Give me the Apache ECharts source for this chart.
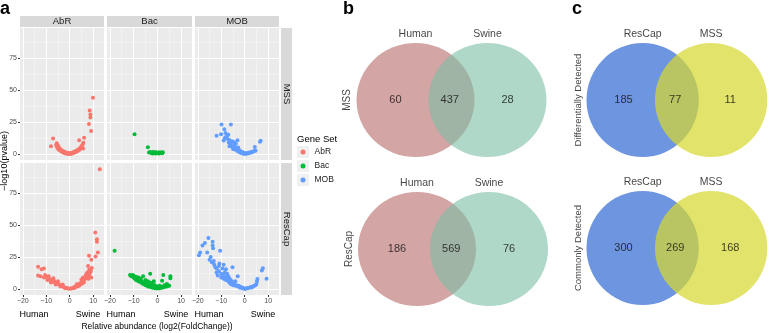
<!DOCTYPE html>
<html>
<head>
<meta charset="utf-8">
<script src="https://cdn.jsdelivr.net/npm/echarts@6/dist/echarts.min.js"></script>
<style>
  html, body { margin: 0; padding: 0; background: #fff; }
  #chart { width: 778px; height: 333px; }
</style>
</head>
<body>
<div id="chart"></div>
<script>
// ---- data ----
const geneSets = ['AbR', 'Bac', 'MOB'];
const methods = ['MSS', 'ResCap'];
const xTicks = [-20, -10, 0, 10];
const xMinor = [-15, -5, 5];
const yTicks = [0, 25, 50, 75];
const yMinor = [12.5, 37.5, 62.5, 87.5];

// [log2FoldChange, -log10(pvalue)]
const abrMSS = [
  [9.9, 44], [8.5, 34], [8.8, 31], [8.8, 28.5], [8.2, 23.5], [9.1, 18], [-7.1, 12.2], [-8, 6],
  [6.1, 12.7], [4, 10.7], [5.7, 4.4],
  [-5.8, 7], [-5.5, 8.5], [-5.5, 5.5], [-5, 6.5], [-5, 4.2], [-4.7, 5.5], [-4.5, 3.2], [-4.2, 4.2],
  [-4, 2.6], [-3.8, 3.4], [-3.5, 2], [-3.3, 2.8], [-3, 1.4], [-2.8, 2.2], [-2.5, 1], [-2.3, 1.7],
  [-2, 0.6], [-1.8, 1.3], [-1.5, 0.4], [-1.3, 1], [-1, 0.2], [-0.8, 0.8], [-0.5, 0.1], [-0.3, 0.6],
  [0, 0], [0.2, 0.5], [0.5, 0.2], [0.8, 0.8], [1, 0.4], [1.3, 1.1], [1.5, 0.7], [1.8, 1.5], [2, 1.1],
  [2.3, 2], [2.5, 1.5], [2.8, 2.5], [3, 2], [3.3, 3.1], [3.5, 2.6], [3.8, 3.8], [4, 3.2], [4.3, 4.5],
  [4.5, 4], [4.8, 5.5], [5, 5], [5.2, 6.5], [5.5, 7.5], [5.8, 8.8]
];
const bacMSS = [
  [-9.6, 15.4], [-4, 5.2], [-3.5, 1.2], [-3, 1.5], [-2.6, 0.8], [-2.2, 1.2], [-2, 0.4], [-1.7, 1.6],
  [-1.4, 0.7], [-1, 1.1], [-0.8, 0.3], [-0.4, 1.4], [0, 0.6], [0.3, 1], [0.7, 0.4], [1, 1.3],
  [1.4, 0.7], [1.8, 1.1], [2.1, 0.5], [2.3, 1.4]
];
const mobMSS = [
  [-12, 14.3], [-9.9, 23.2], [-5.9, 23.2], [-10.1, 15.4], [-8.7, 19.3], [-8.2, 16.5], [-7.8, 14],
  [-7.5, 12], [-8.5, 12.5], [-9, 10.5], [-7, 15], [-6.6, 11], [-6.8, 9], [-6.2, 8], [-5.9, 7],
  [-6.5, 6], [-5.5, 10], [-5, 9.5], [-4.5, 9], [-3.8, 8], [-3.1, 10.7], [-5.2, 5.5], [-5, 4],
  [-4.5, 6.5], [-4.2, 3.5], [-4, 5], [-3.6, 4], [-3.3, 2.5], [-3, 3.5], [-2.8, 5], [-2.5, 2],
  [-2.4, 1.8], [-2.2, 3], [-2, 1.2], [-1.7, 2], [-1.4, 0.8], [-1, 1.5], [-0.8, 0.4], [-0.4, 1],
  [0, 0], [0.4, 0.5], [0.8, 0.2], [1.2, 0.8], [1.6, 0.5], [2, 1.2], [2.4, 0.9], [2.8, 1.6],
  [3.2, 1.3], [3.6, 2], [4, 2.4], [4.3, 5.5], [4.6, 2.6], [6.5, 9.5], [6.8, 10.3]
];
const abrResCap = [
  [12.8, 93.8], [10.9, 44.3], [11.6, 39], [11.6, 37], [12, 28.6], [8.2, 26], [11, 25.5], [9.2, 23],
  [7.8, 18], [9.4, 16.5], [9, 14], [8.3, 15], [7.5, 13], [7, 11.5], [8.5, 12], [9.2, 9.1], [8.2, 10],
  [6.5, 8], [7.5, 8.5], [5.7, 9.1], [6, 6.5], [5.5, 7], [5, 5.5], [5.2, 4.2], [4.5, 4.5], [4.2, 3],
  [4, 4], [3.5, 3], [3.2, 2], [3, 2.5], [2.5, 2], [2.2, 1.2], [2, 1.5], [1.5, 1], [1, 0.6], [0.5, 0.3],
  [0, 0.2], [-0.5, 0.3], [-1, 0.5], [-1.5, 0.8], [-2, 1], [-2.5, 1.5], [-3, 2], [-3.5, 2.5], [-4, 3],
  [-4.5, 3.5], [-5, 4], [-5.5, 4.5], [-6, 5], [-6.5, 6], [-7, 5.5], [-7.5, 7], [-8, 6.5], [-8.5, 7.5],
  [-9, 8], [-9.5, 7], [-10, 9.5], [-10.5, 11], [-11, 16], [-12, 15.5], [-12.5, 10], [-13.5, 17.5],
  [-13.5, 10.5], [-8, 5], [-6, 3.5], [-4, 2], [-2, 0.5], [-3, 3.5], [-5, 6], [-7, 8.5], [-9, 10],
  [-11, 9], [2, 0.8], [4, 2.5], [6, 5], [6.8, 10], [8, 8], [3, 3.8], [5, 7.5]
];
const bacResCap = [
  [-18, 30], [-11.5, 11], [-11, 10], [-10.5, 11], [-10, 9], [-10, 10.5], [-9.5, 8], [-9, 9.5],
  [-9, 7], [-8.5, 8], [-8, 6], [-8, 9], [-7.5, 7], [-7, 5], [-7, 8], [-6.5, 6], [-6, 4], [-6, 10],
  [-5.5, 5], [-5, 3], [-5, 7], [-4.5, 4], [-4, 2], [-4, 6], [-3.5, 3], [-3, 1.5], [-3, 5], [-3, 12],
  [-2.5, 2.5], [-2, 1], [-2, 4], [-1.5, 6], [-1.5, 2], [-1, 0.5], [-1, 3], [-0.5, 1.5], [0, 0.3],
  [0, 2], [0.5, 1], [1, 0.5], [1, 2.5], [1.5, 1.5], [2, 1], [2, 6.5], [2.5, 2], [2.5, 11], [3, 1.5],
  [3, 3], [3.5, 2.5], [4, 2], [4.5, 3], [5, 2.5], [5.5, 8.5], [5.5, 10], [4, 4]
];
const mobResCap = [
  [-19.5, 26.5], [-19, 28.5], [-18, 34], [-17, 36], [-16, 28.5], [-15.5, 40], [-15, 23], [-14.5, 25],
  [-14, 21], [-13.7, 37], [-13.7, 34], [-13.5, 32], [-13.2, 22], [-13, 19], [-12.5, 17], [-12, 13],
  [-12, 16], [-11.5, 10.5], [-11, 14], [-11, 18], [-10.8, 20], [-10.5, 30], [-10, 12], [-10, 9],
  [-9.5, 16], [-9.5, 11], [-9, 19], [-9, 8], [-8.5, 13], [-8.5, 10], [-8, 15.5], [-8, 7], [-7.5, 12],
  [-7.5, 9], [-7, 6], [-7, 10], [-6.5, 8], [-6.5, 5], [-6, 7], [-6, 4], [-5.5, 6], [-5.2, 17], [-5, 3],
  [-5, 5], [-4.5, 4], [-4, 2.5], [-4, 6], [-3.5, 3], [-3, 10], [-3, 2], [-2.5, 2.5], [-2, 1],
  [-1.5, 1.5], [-1, 0.5], [-0.5, 0.8], [0, 0], [0.5, 0.3], [1, 0.5], [1.5, 0.8], [2, 1], [2.5, 1.5],
  [3, 1.2], [3.5, 2], [4, 2.5], [4.5, 3], [5, 4], [5.2, 6], [5.4, 7.8], [7.3, 14.5], [7.7, 16.2], [9.3, 8]
];
const volcano = [[abrMSS, bacMSS, mobMSS], [abrResCap, bacResCap, mobResCap]];

// Venn diagrams: counts are [left only, both, right only]
const vennBSets = ['Human', 'Swine'];
const vennBRows = ['MSS', 'ResCap'];
const vennBCounts = [[60, 437, 28], [186, 569, 76]];
const vennCSets = ['ResCap', 'MSS'];
const vennCRows = ['Differentially Detected', 'Commonly Detected'];
const vennCCounts = [[185, 77, 11], [300, 269, 168]];

// ---- layout / style ----
const FONT = 'Liberation Sans, Arial, Helvetica, sans-serif';
const geneColors = ['#F8766D', '#00BA38', '#619CFF'];
const panelLeft = [20, 107, 195];
const panelWidth = [84, 85, 84];
const rowTop = [28, 163];
const rowHeight = 132;
const xRange = [-21.2, 14.6];
const yRange = [-4.7, 98.7];
const minus = v => (v < 0 ? '\u2212' + (-v) : String(v));

const grid = [], xAxis = [], yAxis = [], series = [], graphic = [];
const noLine = { show: false, onZero: false };

methods.forEach((m, r) => {
  geneSets.forEach((g, c) => {
    const gi = grid.length;
    grid.push({
      left: panelLeft[c], top: rowTop[r], width: panelWidth[c], height: rowHeight,
      show: true, backgroundColor: '#EBEBEB', borderWidth: 0, containLabel: false
    });
    const showX = r === 1, showY = c === 0;
    xAxis.push({
      gridIndex: gi, type: 'value', position: 'bottom', min: xRange[0], max: xRange[1],
      axisLine: noLine,
      axisTick: { show: showX, length: 2, lineStyle: { color: '#333' }, customValues: xTicks },
      axisLabel: { show: showX, customValues: xTicks, formatter: minus, fontSize: 7, color: '#4D4D4D', margin: 3 },
      splitLine: { show: true, lineStyle: { color: '#fff', width: 1 } }
    }, {
      gridIndex: gi, type: 'value', position: 'top', min: xRange[0], max: xRange[1],
      axisLine: noLine, axisTick: { show: false, customValues: xMinor },
      axisLabel: { show: false, customValues: xMinor },
      splitLine: { show: true, lineStyle: { color: '#F6F6F6', width: 0.6 } }
    });
    yAxis.push({
      gridIndex: gi, type: 'value', position: 'left', min: yRange[0], max: yRange[1],
      axisLine: noLine,
      axisTick: { show: showY, length: 2, lineStyle: { color: '#333' }, customValues: yTicks },
      axisLabel: { show: showY, customValues: yTicks, fontSize: 7, color: '#4D4D4D', margin: 3 },
      splitLine: { show: true, lineStyle: { color: '#fff', width: 1 } }
    }, {
      gridIndex: gi, type: 'value', position: 'right', min: yRange[0], max: yRange[1],
      axisLine: noLine, axisTick: { show: false, customValues: yMinor },
      axisLabel: { show: false, customValues: yMinor },
      splitLine: { show: true, lineStyle: { color: '#F6F6F6', width: 0.6 } }
    });
    series.push({
      type: 'scatter', name: g, xAxisIndex: xAxis.length - 2, yAxisIndex: yAxis.length - 2,
      data: volcano[r][c], symbolSize: 4, itemStyle: { color: geneColors[c], opacity: 1 },
      z: 3, silent: true
    });
  });
  // right strip
  graphic.push({ type: 'rect', shape: { x: 281, y: rowTop[r], width: 11, height: rowHeight }, style: { fill: '#D9D9D9' } });
  graphic.push({ type: 'text', x: 286.5, y: rowTop[r] + rowHeight / 2, rotation: -Math.PI / 2,
    style: { text: m, font: '9.5px ' + FONT, fill: '#1A1A1A', textAlign: 'center', align: 'center', textVerticalAlign: 'middle', verticalAlign: 'middle' } });
});

geneSets.forEach((g, c) => {
  graphic.push({ type: 'rect', shape: { x: panelLeft[c], y: 16, width: panelWidth[c], height: 11 }, style: { fill: '#D9D9D9' } });
  graphic.push({ type: 'text', x: panelLeft[c] + panelWidth[c] / 2, y: 21.5,
    style: { text: g, font: '9.5px ' + FONT, fill: '#1A1A1A', textAlign: 'center', align: 'center', textVerticalAlign: 'middle', verticalAlign: 'middle' } });
  [['Human', panelLeft[c] + 14], ['Swine', panelLeft[c] + panelWidth[c] - 16]].forEach(([t, x]) => {
    graphic.push({ type: 'text', x: x, y: 315,
      style: { text: t, font: '9px ' + FONT, fill: '#000', textAlign: 'center', align: 'center', textVerticalAlign: 'middle', verticalAlign: 'middle' } });
  });
});

function centeredText(text, x, y, font, rotation) {
  return { type: 'text', x: x, y: y, rotation: rotation || 0,
    style: { text: text, font: font, fill: '#000', textAlign: 'center', align: 'center', textVerticalAlign: 'middle', verticalAlign: 'middle' } };
}
graphic.push(centeredText('Relative abundance (log2(FoldChange))', 157, 327, '8.5px ' + FONT));
graphic.push(centeredText('\u2212log10(pvalue)', 5, 161, '9px ' + FONT, Math.PI / 2));
graphic.push({ type: 'text', x: 0, y: 0, style: { text: 'a', font: 'bold 18px ' + FONT, fill: '#000' } });
graphic.push({ type: 'text', x: 343, y: 0, style: { text: 'b', font: 'bold 18px ' + FONT, fill: '#000' } });
graphic.push({ type: 'text', x: 572, y: 0, style: { text: 'c', font: 'bold 18px ' + FONT, fill: '#000' } });
// legend title and key backgrounds
graphic.push({ type: 'text', x: 297, y: 139, style: { text: 'Gene Set', font: '9.5px ' + FONT, fill: '#000', textVerticalAlign: 'middle', verticalAlign: 'middle' } });
[146, 160, 174].forEach(y => {
  graphic.push({ type: 'rect', shape: { x: 297, y: y, width: 12, height: 12 }, style: { fill: '#F0F0F0' } });
});

// ---- Venn diagrams ----
const vennPanels = [
  { sets: vennBSets, row: vennBRows[0], counts: vennBCounts[0], center: [451.5, 100], fills: ['rgb(212,165,165)', 'rgba(123,190,163,0.6)'] },
  { sets: vennBSets, row: vennBRows[1], counts: vennBCounts[1], center: [453, 249], fills: ['rgb(212,165,165)', 'rgba(123,190,163,0.6)'] },
  { sets: vennCSets, row: vennCRows[0], counts: vennCCounts[0], center: [682, 100], fills: ['rgb(109,149,224)', 'rgba(215,216,48,0.72)'] },
  { sets: vennCSets, row: vennCRows[1], counts: vennCCounts[1], center: [682, 248], fills: ['rgb(109,149,224)', 'rgba(215,216,48,0.72)'] }
];
const SX = 59, SY = 57;           // px per unit radius
const circleX = [-0.61, 0.61];
const regionX = [-0.95, -0.03, 0.95];
const vx = [-1.8, 1.8], vy = [-1.3, 1.3];

vennPanels.forEach(v => {
  const gi = grid.length;
  grid.push({ left: v.center[0] + vx[0] * SX, top: v.center[1] - vy[1] * SY,
    width: (vx[1] - vx[0]) * SX, height: (vy[1] - vy[0]) * SY, show: false });
  xAxis.push({ gridIndex: gi, type: 'value', min: vx[0], max: vx[1], show: false });
  yAxis.push({ gridIndex: gi, type: 'value', min: vy[0], max: vy[1], show: false });
  const xi = xAxis.length - 1, yi = yAxis.length - 1;
  series.push({
    type: 'custom', coordinateSystem: 'cartesian2d', xAxisIndex: xi, yAxisIndex: yi, silent: true,
    data: circleX.map(x => [x, 0]),
    renderItem: (params, api) => {
      const p = api.coord([api.value(0), api.value(1)]);
      const s = api.size([1, 1]);
      return {
        type: 'path',
        shape: { pathData: 'M0 1A1 1 0 1 1 2 1A1 1 0 1 1 0 1Z', x: p[0] - s[0], y: p[1] - s[1], width: 2 * s[0], height: 2 * s[1], layout: 'cover' },
        style: { fill: v.fills[params.dataIndex], stroke: null }
      };
    }
  });
  const labelSeries = (data, fontSize, rotate) => ({
    type: 'scatter', xAxisIndex: xi, yAxisIndex: yi, silent: true, symbolSize: 1,
    itemStyle: { color: 'rgba(0,0,0,0)' }, z: 5, data: data,
    label: { show: true, position: 'inside', formatter: '{b}', fontSize: fontSize, color: '#111', rotate: rotate || 0, fontFamily: FONT }
  });
  series.push(labelSeries(v.counts.map((n, i) => ({ name: String(n), value: [regionX[i], 0] })), 11));
  series.push(labelSeries(v.sets.map((s, i) => ({ name: s, value: [circleX[i], 1.15] })), 10.5));
  series.push(labelSeries([{ name: v.row, value: [-1.76, 0] }], v.row.length > 8 ? 9.5 : 10, 90));
});

const chart = echarts.init(document.getElementById('chart'), null, { renderer: 'canvas' });
chart.setOption({
  animation: false,
  backgroundColor: '#fff',
  textStyle: { fontFamily: FONT },
  legend: {
    data: geneSets, orient: 'vertical', left: 300.5, top: 147, icon: 'circle',
    itemWidth: 5, itemHeight: 5, itemGap: 4, padding: 0, selectedMode: false,
    textStyle: { fontSize: 8.5, color: '#1A1A1A', lineHeight: 10, fontFamily: FONT, padding: [0, 0, 0, 4] }
  },
  grid: grid,
  xAxis: xAxis,
  yAxis: yAxis,
  series: series,
  graphic: graphic
});
</script>
</body>
</html>
